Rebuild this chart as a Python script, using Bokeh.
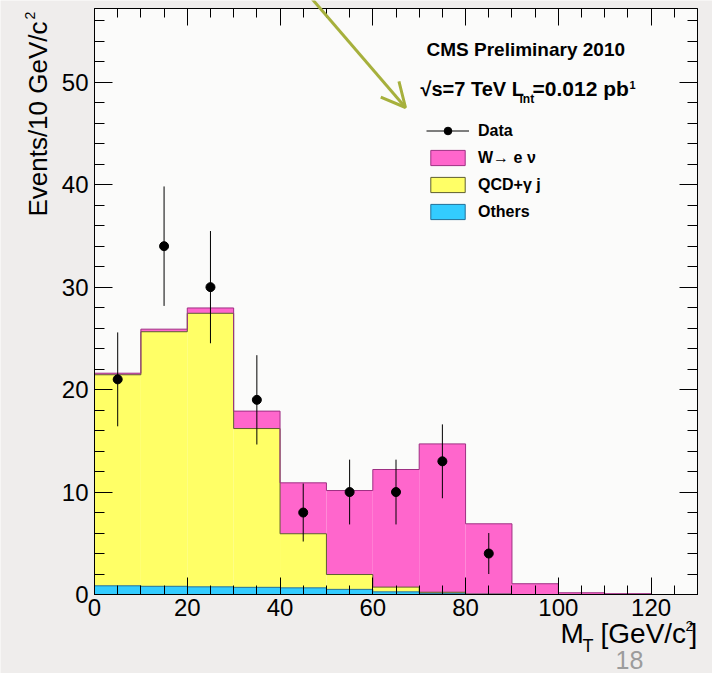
import math

from bokeh.embed import file_html
from bokeh.models import (Arrow, BoxAnnotation, CustomJSTickFormatter, Label,
                          Legend, LegendItem, LinearAxis, OpenHead, Range1d,
                          SingleIntervalTicker)
from bokeh.plotting import figure
from bokeh.resources import INLINE

# ---- data: transverse mass, 10 GeV/c^2 bins -------------------------------
bin_edges = [0, 10, 20, 30, 40, 50, 60, 70, 80, 90, 100, 110, 120, 130]
others = [0.85, 0.80, 0.75, 0.70, 0.65, 0.50, 0.26, 0.12, 0.03, 0.0, 0.0, 0.0, 0.0]
qcd_gamma = [20.60, 24.85, 26.70, 15.50, 5.28, 1.45, 0.46, 0.10, 0.0, 0.0, 0.0, 0.0, 0.0]
w_enu = [0.15, 0.25, 0.52, 1.70, 4.97, 8.20, 11.48, 14.48, 6.87, 1.05, 0.17, 0.08, 0.0]

data_centers = [5, 15, 25, 35, 45, 55, 65, 75, 85]
data_counts = [21, 34, 30, 19, 8, 10, 10, 13, 4]

x_major_step, x_minor_per_major = 20, 4
y_major_step, y_minor_per_major = 10, 5

# ---- layout ---------------------------------------------------------------
# The plotting frame spans the whole canvas; the histogram box is drawn by
# four axes pinned at the edges of the M_T / event-count window.
W, H = 712, 673
BOX_L, BOX_R, BOX_T, BOX_B = 94, 697, 8, 594      # canvas pixels of the box
X_MAX, Y_MAX = 130, 57.2                           # data limits of the box
FONT = "Liberation Sans"


def px_x(px):
    return (px - BOX_L) / (BOX_R - BOX_L) * X_MAX


def px_y(py):
    return (BOX_B - py) / (BOX_B - BOX_T) * Y_MAX


p = figure(width=W, height=H,
           x_range=Range1d(px_x(0), px_x(W)), y_range=Range1d(px_y(H), px_y(0)),
           output_backend="svg", toolbar_location=None,
           min_border=0, x_axis_type=None, y_axis_type=None)
p.title.visible = False
p.outline_line_color = None
p.border_fill_color = "#f1efee"
p.background_fill_color = "#efedec"
p.xgrid.visible = False
p.ygrid.visible = False
p.add_layout(BoxAnnotation(left=0, right=X_MAX, bottom=0, top=Y_MAX,
                           fill_color="#fbfbfa", fill_alpha=1.0,
                           line_color=None, level="underlay"))

# ---- stacked histograms ---------------------------------------------------
lefts = bin_edges[:-1]
rights = bin_edges[1:]
top_others = list(others)
top_qcd = [o + q for o, q in zip(others, qcd_gamma)]
top_w = [t + w for t, w in zip(top_qcd, w_enu)]

stack = [
    ([0.0] * len(others), top_others, "#33ccff", "#1f6f99"),
    (top_others, top_qcd, "#ffff66", "#5e5e2e"),
    (top_qcd, top_w, "#ff66cc", "#9e2f83"),
]
for bottom, top, fill, line in stack:
    p.quad(left=lefts, right=rights, bottom=bottom, top=top,
           fill_color=fill, line_color=None)
for bottom, top, fill, line in stack:
    p.step(x=bin_edges, y=top + [top[-1]], mode="after", line_color=line, line_width=1)

# legend swatches: a single undrawable row carrying the fill/outline styles
nan = float("nan")
legend_swatch = {}
for name, (bottom, top, fill, line) in zip(["others", "qcd", "w"], stack):
    legend_swatch[name] = p.quad(left=[nan], right=[nan], bottom=[nan], top=[nan],
                                 fill_color=fill, line_color=line, line_width=1)

# ---- data points with Poisson errors --------------------------------------
err_lo = [n - math.sqrt(n) for n in data_counts]
err_hi = [n + math.sqrt(n) for n in data_counts]
bars = p.segment(x0=data_centers, y0=err_lo, x1=data_centers, y1=err_hi,
                 line_color="black", line_width=1)
dots = p.scatter(data_centers, data_counts, marker="circle", size=9,
                 fill_color="black", line_color="black")

# ---- axes -----------------------------------------------------------------
x_ticker = SingleIntervalTicker(interval=x_major_step, num_minor_ticks=x_minor_per_major)
y_ticker = SingleIntervalTicker(interval=y_major_step, num_minor_ticks=y_minor_per_major)
blank = CustomJSTickFormatter(code="return ''")

xa = LinearAxis(ticker=x_ticker, fixed_location=0, bounds=(0, X_MAX))
top_axis = LinearAxis(ticker=x_ticker, fixed_location=Y_MAX, bounds=(0, X_MAX), formatter=blank)
ya = LinearAxis(ticker=y_ticker, fixed_location=0, bounds=(0, Y_MAX))
right_axis = LinearAxis(ticker=y_ticker, fixed_location=X_MAX, bounds=(0, Y_MAX), formatter=blank)
p.add_layout(xa, "below")
p.add_layout(top_axis, "above")
p.add_layout(ya, "left")
p.add_layout(right_axis, "right")

for ax, major, minor in [(xa, 17, 9), (top_axis, 17, 9), (ya, 18, 10), (right_axis, 18, 10)]:
    ax.major_tick_in = major
    ax.major_tick_out = 0
    ax.minor_tick_in = minor
    ax.minor_tick_out = 0
    ax.axis_line_color = "black"
    ax.axis_line_width = 1
    ax.major_tick_line_color = "black"
    ax.minor_tick_line_color = "black"
    ax.major_label_text_font = FONT
    ax.major_label_text_color = "black"
    ax.major_label_text_font_size = "24px"

xa.major_label_standoff = 4
ya.major_label_standoff = 6

# ---- legend ---------------------------------------------------------------
legend = Legend(items=[
    LegendItem(label="Data", renderers=[bars, dots]),
    LegendItem(label="W\u2192 e \u03bd", renderers=[legend_swatch["w"]]),
    LegendItem(label="QCD+\u03b3 j", renderers=[legend_swatch["qcd"]]),
    LegendItem(label="Others", renderers=[legend_swatch["others"]]),
], location=(426, H - 221))
legend.label_text_font = FONT
legend.label_text_font_style = "bold"
legend.label_text_font_size = "16px"
legend.label_text_color = "black"
legend.glyph_width = 43
legend.glyph_height = 19
legend.label_height = 19
legend.label_standoff = 9
legend.spacing = 8
legend.padding = 0
legend.margin = 0
legend.border_line_alpha = 0
legend.background_fill_alpha = 0
p.add_layout(legend)


# ---- text -----------------------------------------------------------------
def text(px, py, s, size, bold=False, color="black", align="left", vertical=False):
    """Place text by its baseline (canvas pixels); anchored at the text-box middle."""
    shift = 0.3465 * size
    if vertical:
        ax_, ay_, angle = px - shift, py, math.pi / 2
    else:
        ax_, ay_, angle = px, py - shift, 0.0
    p.add_layout(Label(x=px_x(ax_), y=px_y(ay_), text=s, text_font=FONT,
                       text_font_size=f"{size}px",
                       text_font_style="bold" if bold else "normal",
                       text_color=color, text_align=align,
                       text_baseline="middle", angle=angle))


text(426, 56, "CMS Preliminary 2010", 19, bold=True)
text(420, 95, "\u221as=7 TeV L", 20, bold=True)
text(519, 103, "int", 12, bold=True)
text(532, 95, "=0.012 pb", 21, bold=True)
text(629, 88, "1", 11, bold=True)

# x title: M_T [GeV/c^2]
text(560, 643, "M", 28)
text(582, 652, "T", 18)
text(600, 643, "[GeV/c", 28)
text(685, 630, "2", 14)
text(689, 643, "]", 28)

# y title: Events/10 GeV/c^2
text(47, 21, "Events/10 GeV/c", 26, align="right", vertical=True)
text(34, 19, "2", 14, vertical=True)

# slide page number
text(615, 668, "18", 25, color="#9c9c9c")

# pointer arrow
p.add_layout(Arrow(x_start=px_x(300), y_start=px_y(-15), x_end=px_x(405), y_end=px_y(107),
                   line_color="#a6b03c", line_width=3,
                   end=OpenHead(size=24, line_color="#a6b03c", line_width=3)))

open("out.html", "w").write(file_html(p, INLINE))
